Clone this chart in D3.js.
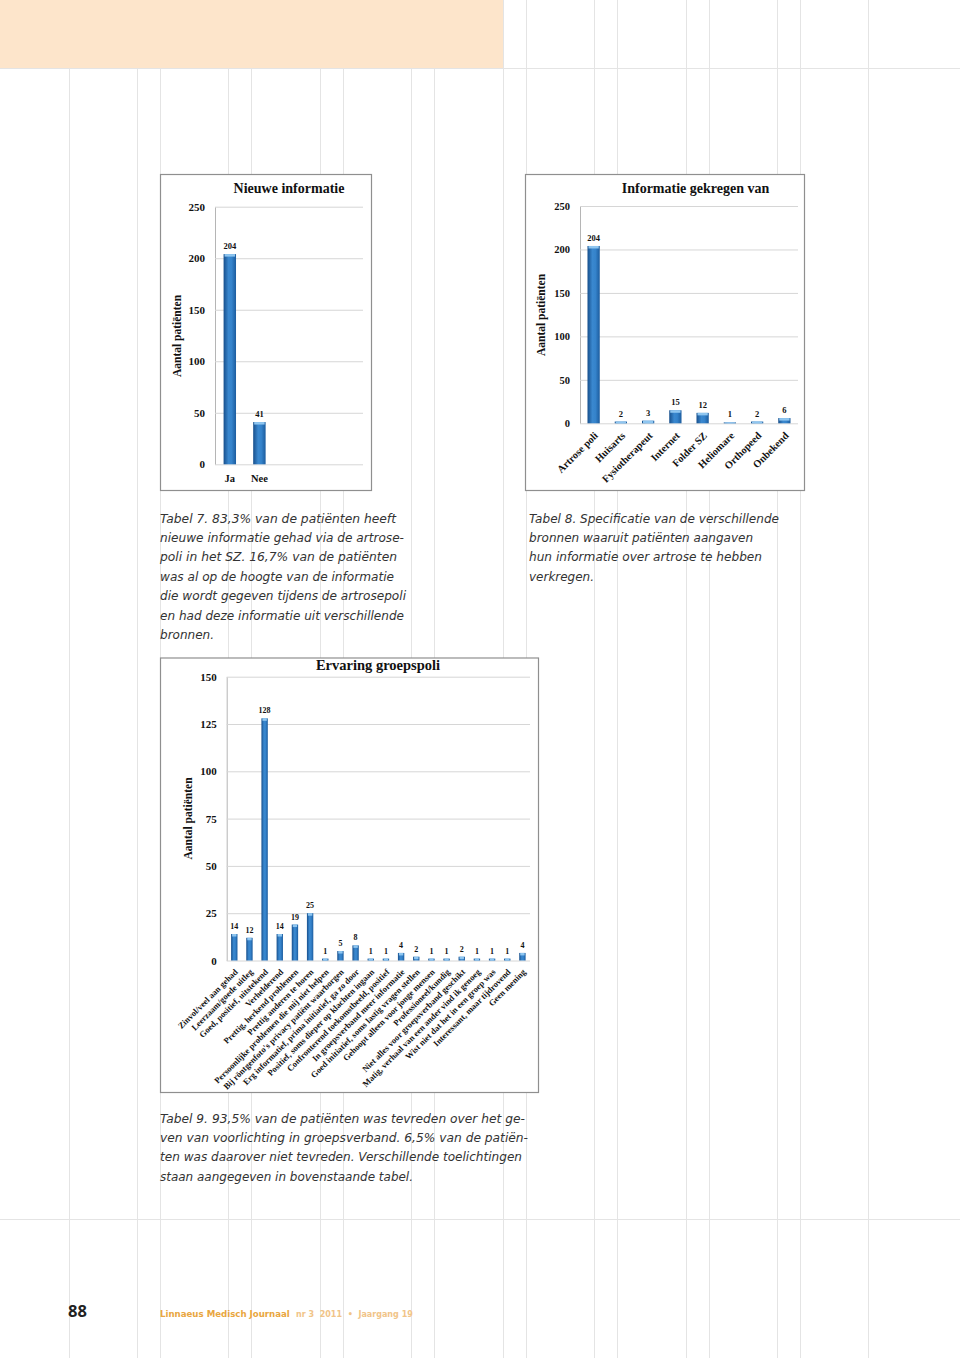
<!DOCTYPE html>
<html><head><meta charset="utf-8">
<script src="https://cdn.jsdelivr.net/npm/d3@7"></script>
<style>body{margin:0;background:#fff}svg{display:block}</style>
</head><body>
<script>
// ---------- DATA ----------
const infoCategories = ["Ja", "Nee"];
const infoValues = [204, 41];

const sourceCategories = ["Artrose poli", "Huisarts", "Fysiotherapeut", "Internet", "Folder SZ", "Heliomare", "Orthopeed", "Onbekend"];
const sourceValues = [204, 2, 3, 15, 12, 1, 2, 6];

const experienceCategories = [
  "Zinvol/veel aan gehad",
  "Leerzaam/goede uitleg",
  "Goed, positief, uitstekend",
  "Verhelderend",
  "Prettig, herkend problemen",
  "Prettig anderen te horen",
  "Persoonlijke problemen die mij niet helpen",
  "Bij röntgenfoto's privacy patiënt waarborgen",
  "Erg informatief, prima initiatief, ga zo door",
  "Positief, soms dieper op klachten ingaan",
  "Confronterend toekomstbeeld, positief",
  "In groepsverband meer informatie",
  "Goed initiatief, soms lastig vragen stellen",
  "Gehoopt alleen voor jonge mensen",
  "Professioneel/kundig",
  "Niet alles voor groepsverband geschikt",
  "Matig, verhaal van een ander vind ik genoeg",
  "Wist niet dat het in een groep was",
  "Interessant, maar tijdrovend",
  "Geen mening"
];
const experienceValues = [14, 12, 128, 14, 19, 25, 1, 5, 8, 1, 1, 4, 2, 1, 1, 2, 1, 1, 1, 4];

const ticks250 = [0, 50, 100, 150, 200, 250];
const ticks150 = [0, 25, 50, 75, 100, 125, 150];

const caption7 = [
  "Tabel 7. 83,3% van de patiënten heeft",
  "nieuwe informatie gehad via de artrose-",
  "poli in het SZ. 16,7% van de patiënten",
  "was al op de hoogte van de informatie",
  "die wordt gegeven tijdens de artrosepoli",
  "en had deze informatie uit verschillende",
  "bronnen."
];
const caption8 = [
  "Tabel 8. Specificatie van de verschillende",
  "bronnen waaruit patiënten aangaven",
  "hun informatie over artrose te hebben",
  "verkregen."
];
const caption9 = [
  "Tabel 9. 93,5% van de patiënten was tevreden over het ge-",
  "ven van voorlichting in groepsverband. 6,5% van de patiën-",
  "ten was daarover niet tevreden. Verschillende toelichtingen",
  "staan aangegeven in bovenstaande tabel."
];

// ---------- PAGE ----------
const W = 960, H = 1358;
const svg = d3.select("body").append("svg").attr("width", W).attr("height", H);
const SERIF = "'Liberation Serif','Times New Roman',serif";
const SANS = "'DejaVu Sans',Verdana,sans-serif";

// background column grid
const gridG = svg.append("g").attr("stroke", "#e4e4e4").attr("stroke-width", 1);
for (let i = 0; i < 9; i++) {
  const l = 68.6 + 91.43 * i;
  [l, l + 68.4].forEach(x => gridG.append("line")
    .attr("x1", Math.round(x) + 0.5).attr("x2", Math.round(x) + 0.5)
    .attr("y1", 0).attr("y2", H));
}
[68.5, 1219.5].forEach(y => gridG.append("line").attr("x1", 0).attr("x2", W).attr("y1", y).attr("y2", y));

// peach header block
svg.append("rect").attr("x", 0).attr("y", 0).attr("width", 503).attr("height", 68).attr("fill", "#fde5cb");

// bar gradient
const defs = svg.append("defs");
const grad = defs.append("linearGradient").attr("id", "barGrad").attr("x1", 0).attr("x2", 1).attr("y1", 0).attr("y2", 0);
[["0%", "#174f8c"], ["40%", "#3a88cf"], ["65%", "#3583cb"], ["100%", "#1c5c9e"]]
  .forEach(([o, c]) => grad.append("stop").attr("offset", o).attr("stop-color", c));

// ---------- CHART ----------
function drawChart(cfg) {
  const g = svg.append("g");
  g.append("rect")
    .attr("x", cfg.box[0]).attr("y", cfg.box[1])
    .attr("width", cfg.box[2] - cfg.box[0]).attr("height", cfg.box[3] - cfg.box[1])
    .attr("fill", "#fff").attr("stroke", "#8f8f8f").attr("stroke-width", 1.2);

  const y = d3.scaleLinear().domain([0, d3.max(cfg.ticks)]).range([cfg.y0, cfg.yTop]);
  const plotW = cfg.xr - cfg.xl;
  const x = d3.scaleBand().domain(cfg.categories)
    .range([cfg.xl, cfg.xl + plotW * cfg.categories.length / cfg.slots])
    .paddingInner(cfg.pad).paddingOuter(cfg.pad / 2);

  // y axis + gridlines
  const ya = g.append("g").attr("transform", `translate(${cfg.xl},0)`)
    .call(d3.axisLeft(y).tickValues(cfg.ticks).tickSize(-plotW).tickSizeOuter(0).tickPadding(10).tickFormat(d3.format("d")));
  ya.select(".domain").attr("stroke", "#b5b5b5");
  ya.selectAll(".tick line").attr("stroke", "#d6d6d6");
  ya.selectAll(".tick text").attr("fill", "#111")
    .style("font-family", SERIF).style("font-weight", "bold").style("font-size", cfg.tickFont + "px");

  // bars
  const bars = g.append("g");
  cfg.values.forEach((v, i) => {
    const c = cfg.categories[i];
    const top = y(v), h = cfg.y0 - top;
    bars.append("rect").attr("x", x(c)).attr("y", top).attr("width", x.bandwidth()).attr("height", h)
      .attr("fill", "url(#barGrad)");
    bars.append("rect").attr("x", x(c) + 1).attr("y", top).attr("width", x.bandwidth() - 2)
      .attr("height", Math.min(2.5, h)).attr("fill", "#8fc6f0");
    bars.append("text").attr("x", x(c) + x.bandwidth() / 2).attr("y", top - 5)
      .attr("text-anchor", "middle").attr("fill", "#111")
      .style("font-family", SERIF).style("font-weight", "bold").style("font-size", cfg.valueFont + "px")
      .text(v);
  });

  // x axis labels
  const xa = g.append("g").attr("transform", `translate(0,${cfg.y0})`)
    .call(d3.axisBottom(x).tickSize(0).tickPadding(0));
  xa.select(".domain").remove();
  const xt = xa.selectAll(".tick text").attr("fill", "#111")
    .style("font-family", SERIF).style("font-weight", "bold").style("font-size", cfg.xFont + "px");
  if (cfg.rotate) {
    xt.attr("x", 0).attr("y", 0).attr("dy", 0).attr("text-anchor", "end")
      .attr("transform", `translate(${cfg.labelDx},${cfg.labelDy}) rotate(-45)`);
  } else {
    xt.attr("y", cfg.labelDy).attr("dy", 0);
  }

  // title
  g.append("text").attr("x", cfg.titleX).attr("y", cfg.titleY).attr("text-anchor", "middle")
    .attr("fill", "#111").style("font-family", SERIF).style("font-weight", "bold")
    .style("font-size", cfg.titleFont + "px").text(cfg.title);

  // y title
  g.append("text").attr("transform", `translate(${cfg.yTitleX},${cfg.yTitleY}) rotate(-90)`)
    .attr("text-anchor", "middle").attr("dy", "0.35em").attr("fill", "#111")
    .style("font-family", SERIF).style("font-weight", "bold").style("font-size", "11.5px")
    .text("Aantal patiënten");
}

drawChart({
  box: [160.5, 174.5, 371.5, 490.5], categories: infoCategories, values: infoValues, ticks: ticks250,
  xl: 215, xr: 363, y0: 464.3, yTop: 206.7, slots: 5, pad: 0.58,
  tickFont: 11, valueFont: 8.5, xFont: 10.5, rotate: false, labelDy: 17.5,
  title: "Nieuwe informatie", titleX: 289, titleY: 193, titleFont: 14,
  yTitleX: 177, yTitleY: 336
});

drawChart({
  box: [525.5, 174.5, 804.5, 490.5], categories: sourceCategories, values: sourceValues, ticks: ticks250,
  xl: 580, xr: 798, y0: 423.3, yTop: 206, slots: 8, pad: 0.55,
  tickFont: 10.5, valueFont: 8.5, xFont: 10.3, rotate: true, labelDx: 5, labelDy: 13,
  title: "Informatie gekregen van", titleX: 695.5, titleY: 193, titleFont: 14,
  yTitleX: 541, yTitleY: 315
});

drawChart({
  box: [160.5, 658, 538.5, 1092.5], categories: experienceCategories, values: experienceValues, ticks: ticks150,
  xl: 226.7, xr: 530, y0: 960.5, yTop: 676.7, slots: 20, pad: 0.58,
  tickFont: 11, valueFont: 8, xFont: 8.6, rotate: true, labelDx: 4, labelDy: 12,
  title: "Ervaring groepspoli", titleX: 378, titleY: 670, titleFont: 14.5,
  yTitleX: 188, yTitleY: 818.5
});

// ---------- CAPTIONS ----------
function caption(lines, x, y0, widths) {
  const t = svg.append("g");
  lines.forEach((s, i) => {
    t.append("text").attr("x", x).attr("y", y0 + i * 19.4)
      .attr("fill", "#333").style("font-family", SANS).style("font-style", "italic").style("font-size", "12px")
      .attr("textLength", widths[i]).attr("lengthAdjust", "spacingAndGlyphs")
      .text(s);
  });
}
caption(caption7, 160, 522.5, [236, 244, 237, 234, 246, 244, 54]);
caption(caption8, 529, 522.5, [250, 224, 233, 65]);
caption(caption9, 160, 1122.5, [365, 368, 362, 253]);

// ---------- FOOTER ----------
function fitText(sel, size, target) {
  sel.style("font-size", size + "px");
  const w = sel.node().getComputedTextLength();
  if (w > target) sel.style("font-size", (size * target / w).toFixed(2) + "px");
  return sel;
}
const FOOT = "'Liberation Sans Narrow','DejaVu Sans Condensed','Open Sans',sans-serif";
fitText(svg.append("text").attr("x", 68).attr("y", 1317).attr("fill", "#222")
  .style("font-family", "'Open Sans',sans-serif").style("font-weight", "bold").text("88"), 16.5, 20);
fitText(svg.append("text").attr("x", 160).attr("y", 1316.5).attr("fill", "#e9a640")
  .style("font-family", FOOT).style("font-weight", "bold").text("Linnaeus Medisch Journaal"), 11.5, 130);
fitText(svg.append("text").attr("x", 296).attr("y", 1316.5).attr("fill", "#f1c488")
  .style("font-family", FOOT).style("font-weight", "bold").attr("xml:space", "preserve")
  .text("nr 3  2011  •  Jaargang 19"), 11, 117);
</script>
</body></html>
